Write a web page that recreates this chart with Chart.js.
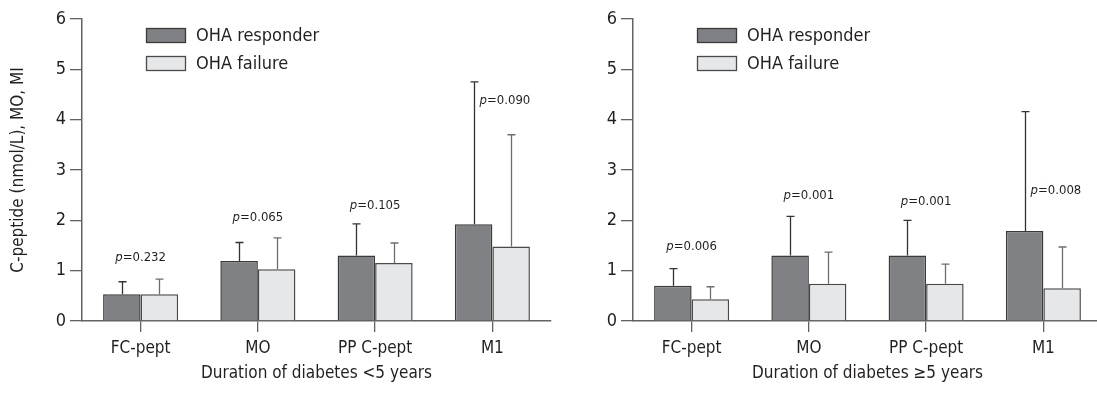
<!DOCTYPE html>
<html><head><meta charset="utf-8">
<script src="https://cdn.jsdelivr.net/npm/chart.js@4.4.0/dist/chart.umd.min.js"></script>
<style>
html,body{margin:0;padding:0;background:#fff;overflow:hidden;width:1097px;height:393px;position:relative;}
.w{position:absolute;top:0;width:560px;height:393px;}
#w1{left:0;}
#w2{left:551px;}
</style></head><body>
<div class="w" id="w1"><canvas id="c1"></canvas></div>
<div class="w" id="w2"><canvas id="c2"></canvas></div>
<script>
// ---- data ----
const categories = ['FC-pept', 'MO', 'PP C-pept', 'M1'];
const seriesNames = ['OHA responder', 'OHA failure'];
const yMin = 0, yMax = 6, yStep = 1;
// Duration of diabetes <5 years
const respLt5 = [0.53, 1.19, 1.30, 1.92];
const respLt5Upper = [0.78, 1.56, 1.93, 4.75];
const failLt5 = [0.53, 1.03, 1.15, 1.48];
const failLt5Upper = [0.83, 1.65, 1.55, 3.70];
const pLt5 = ['0.232', '0.065', '0.105', '0.090'];
const pLt5At = [1.25, 2.05, 2.30, 4.37];
// Duration of diabetes >=5 years
const respGe5 = [0.70, 1.30, 1.30, 1.79];
const respGe5Upper = [1.04, 2.08, 2.00, 4.16];
const failGe5 = [0.43, 0.74, 0.74, 0.65];
const failGe5Upper = [0.68, 1.37, 1.13, 1.47];
const pGe5 = ['0.006', '0.001', '0.001', '0.008'];
const pGe5At = [1.47, 2.50, 2.38, 2.60];
const xTitles = ['Duration of diabetes <5 years', 'Duration of diabetes \u22655 years'];
const yTitle = 'C-peptide (nmol/L), MO, MI';

// ---- style ----
const FONT = "'DejaVu Sans Condensed', 'Liberation Sans Narrow', 'DejaVu Sans', sans-serif";
const TXT = '#231f20';
const AX = '#626262';

const errPlugin = {
  id: 'errbars',
  afterDatasetsDraw(chart, args, opts) {
    const ctx = chart.ctx, ys = chart.scales.y, xs = chart.scales.x;
    chart.data.datasets.forEach((ds, di) => {
      const meta = chart.getDatasetMeta(di);
      meta.data.forEach((bar, i) => {
        const top = ys.getPixelForValue(ds.upper[i]);
        const x = Math.round(bar.x) + 0.5;
        ctx.save();
        ctx.strokeStyle = ds.errColor;
        ctx.lineWidth = 1.3;
        ctx.beginPath();
        ctx.moveTo(x, bar.y);
        ctx.lineTo(x, top);
        ctx.moveTo(x - 4, top);
        ctx.lineTo(x + 4, top);
        ctx.stroke();
        ctx.restore();
      });
    });
    // p-value annotations
    const pv = opts.pValues, pa = opts.pAt, side = opts.side;
    const respMeta = chart.getDatasetMeta(0);
    ctx.save();
    ctx.fillStyle = TXT;
    ctx.textBaseline = 'middle';
    pv.forEach((v, i) => {
      const y = ys.getPixelForValue(pa[i]);
      const f1 = "italic 13px " + FONT, f2 = "13px " + FONT;
      ctx.font = f1; const w1 = ctx.measureText('p').width;
      ctx.font = f2; const w2 = ctx.measureText('=' + v).width;
      let x0;
      if (side[i]) x0 = respMeta.data[i].x + 6;
      else x0 = xs.getPixelForValue(i) - (w1 + w2) / 2;
      ctx.textAlign = 'left';
      ctx.font = f1; ctx.fillText('p', x0, y);
      ctx.font = f2; ctx.fillText('=' + v, x0 + w1, y);
    });
    ctx.restore();
    // legend
    const a = chart.chartArea;
    ctx.save();
    chart.data.datasets.forEach((ds, di) => {
      const bx = a.left + 64, by = 28 + di * 28;
      ctx.fillStyle = ds.backgroundColor;
      ctx.fillRect(bx, by, 40, 15);
      ctx.strokeStyle = ds.borderColor;
      ctx.lineWidth = 1.3;
      ctx.strokeRect(bx + 0.5, by + 0.5, 39, 14);
      ctx.fillStyle = TXT;
      ctx.font = "18px " + FONT;
      ctx.textBaseline = 'middle';
      ctx.textAlign = 'left';
      ctx.fillText(ds.label, bx + 50, by + 8);
    });
    ctx.restore();
  }
};

function makeChart(id, resp, respUp, fail, failUp, pv, pa, xTitle, showYTitle) {
  return new Chart(document.getElementById(id), {
    type: 'bar',
    data: {
      labels: categories,
      datasets: [
        { label: seriesNames[0], data: resp, upper: respUp, backgroundColor: '#808184', borderColor: '#3a3a3a',
          borderWidth: 1.5, errColor: '#333333', categoryPercentage: 0.64, barPercentage: 1 },
        { label: seriesNames[1], data: fail, upper: failUp, backgroundColor: '#e6e7e8', borderColor: '#4a4a4a',
          borderWidth: 1.5, errColor: '#6d6d6d', categoryPercentage: 0.64, barPercentage: 1 }
      ]
    },
    options: {
      responsive: true, maintainAspectRatio: false, animation: false,
      layout: { padding: { left: 0, right: 9, top: 19, bottom: 0 } },
      plugins: {
        legend: { display: false }, tooltip: { enabled: false },
        errbars: { pValues: pv, pAt: pa, side: [false, false, false, true] }
      },
      scales: {
        x: {
          afterFit: s => { s.height = 72; },
          grid: { offset: false, drawOnChartArea: false, tickLength: 11, color: AX, lineWidth: 1.3 },
          border: { display: true, color: AX, width: 1.5 },
          ticks: { color: TXT, font: { family: FONT, size: 17 }, padding: 6, maxRotation: 0 },
          title: { display: true, text: xTitle, color: TXT, font: { family: FONT, size: 17 }, padding: { top: 0, bottom: 9 } }
        },
        y: {
          min: yMin, max: yMax,
          afterFit: s => { s.width = 82; },
          grid: { drawOnChartArea: false, tickLength: 12, color: AX, lineWidth: 1.3 },
          border: { display: true, color: AX, width: 1.5 },
          ticks: { stepSize: yStep, color: TXT, font: { family: FONT, size: 18 }, padding: 4 },
          title: { display: showYTitle, text: yTitle, color: TXT, font: { family: FONT, size: 17 }, padding: { top: 8, bottom: 0 } }
        }
      }
    },
    plugins: [errPlugin]
  });
}

makeChart('c1', respLt5, respLt5Upper, failLt5, failLt5Upper, pLt5, pLt5At, xTitles[0], true);
makeChart('c2', respGe5, respGe5Upper, failGe5, failGe5Upper, pGe5, pGe5At, xTitles[1], false);
</script>
</body></html>
